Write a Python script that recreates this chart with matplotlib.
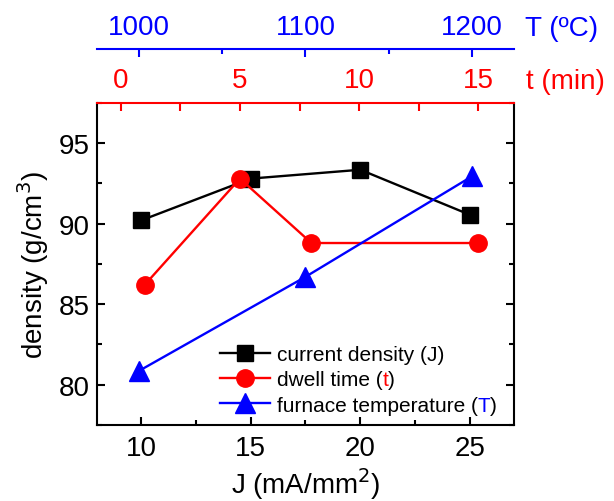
import matplotlib
matplotlib.use("Agg")
import matplotlib.pyplot as plt
from matplotlib.ticker import MultipleLocator
from matplotlib.transforms import IdentityTransform

plt.rcParams['font.family'] = ['Liberation Sans', 'DejaVu Sans']

# dados
J_vals = [10, 15, 20, 25]
dens_J = [90.2, 92.8, 93.35, 90.55]

t_vals = [1, 5, 8, 15]
dens_t = [86.2, 92.8, 88.8, 88.8]

T_vals = [1000, 1100, 1200]
dens_T = [80.85, 86.7, 92.95]

fs = 20
fig = plt.figure(figsize=(6.14, 5.02), dpi=100)
ax = fig.add_axes([0.158, 0.1514, 0.679, 0.6416])

lw = 1.7
tick_kw = dict(direction='in', width=1.5)

# eixo principal (J)
l1, = ax.plot(J_vals, dens_J, '-s', color='black', lw=lw, ms=11.5, label='current density (J)')
ax.set_xlim(8, 27)
ax.set_ylim(77.5, 97.5)
ax.xaxis.set_major_locator(MultipleLocator(5))
ax.xaxis.set_minor_locator(MultipleLocator(2.5))
ax.yaxis.set_major_locator(MultipleLocator(5))
ax.yaxis.set_minor_locator(MultipleLocator(2.5))
ax.tick_params(which='both', bottom=True, top=False, left=True, right=True, labelsize=fs, **tick_kw)
ax.tick_params(which='major', length=5.5)
ax.tick_params(which='minor', length=3.4)
ax.tick_params(axis='x', pad=7)
ax.tick_params(axis='y', pad=5)
for s in ['left', 'right', 'bottom']:
    ax.spines[s].set_linewidth(1.5)
ax.spines['top'].set_visible(False)
ax.set_xlabel('J (mA/mm$^2$)', fontsize=fs, labelpad=3)
ax.set_ylabel('density (g/cm$^3$)', fontsize=fs, labelpad=6)

# eixo do tempo (t) em vermelho
ax_t = ax.twiny()
l2, = ax_t.plot(t_vals, dens_t, '-o', color='red', lw=lw, ms=12.5, label='dwell time (t)')
ax_t.set_xlim(-1.0, 16.5)
ax_t.xaxis.set_major_locator(MultipleLocator(5))
ax_t.xaxis.set_minor_locator(MultipleLocator(2.5))
ax_t.tick_params(which='both', colors='red', labelsize=fs, pad=7, **tick_kw)
ax_t.tick_params(which='major', length=5.5)
ax_t.tick_params(which='minor', length=5.5)
ax_t.spines['top'].set_color('red')
ax_t.spines['top'].set_linewidth(1.5)
for s in ['left', 'right', 'bottom']:
    ax_t.spines[s].set_visible(False)

# eixo da temperatura (T) em azul
ax_T = ax.twiny()
l3, = ax_T.plot(T_vals, dens_T, '-^', color='blue', lw=lw, ms=14, label='furnace temperature (T)')
ax_T.set_xlim(975, 1225)
ax_T.xaxis.set_major_locator(MultipleLocator(100))
ax_T.xaxis.set_minor_locator(MultipleLocator(50))
ax_T.spines['top'].set_position(('axes', 1.166))
ax_T.spines['top'].set_color('blue')
ax_T.spines['top'].set_linewidth(1.5)
for s in ['left', 'right', 'bottom']:
    ax_T.spines[s].set_visible(False)
ax_T.tick_params(which='both', colors='blue', labelsize=fs, pad=7, **tick_kw)
ax_T.tick_params(which='major', length=5.5)
ax_T.tick_params(which='minor', length=3.4)

ax.text(1.03, 1.068, 't (min)', transform=ax.transAxes, color='red', fontsize=fs, va='center', ha='left')
ax.text(1.026, 1.232, 'T (ºC)', transform=ax.transAxes, color='blue', fontsize=fs, va='center', ha='left')

# legenda
labels = ['current density (J)', 'dwell time (', 'furnace temperature (']
leg = ax_T.legend([l1, l2, l3], labels, loc='lower left', bbox_to_anchor=(0.271, 0.0),
                  bbox_transform=ax.transAxes, frameon=False, fontsize=15,
                  handlelength=2.4, handletextpad=0.3, labelspacing=0.3, borderpad=0)

# letras coloridas dentro da legenda
fig.canvas.draw()
renderer = fig.canvas.get_renderer()
texts = leg.get_texts()
for txt, letra, cor in [(texts[1], 't', 'red'), (texts[2], 'T', 'blue')]:
    bb = txt.get_window_extent(renderer)
    x0, y0 = txt.get_transform().transform(txt.get_position())
    t1 = fig.text(bb.x1, y0, letra, transform=IdentityTransform(), color=cor,
                  fontsize=15, va='baseline', ha='left')
    bb1 = t1.get_window_extent(renderer)
    fig.text(bb1.x1, y0, ')', transform=IdentityTransform(), color='black',
             fontsize=15, va='baseline', ha='left')

fig.savefig('out.png', dpi=100)
